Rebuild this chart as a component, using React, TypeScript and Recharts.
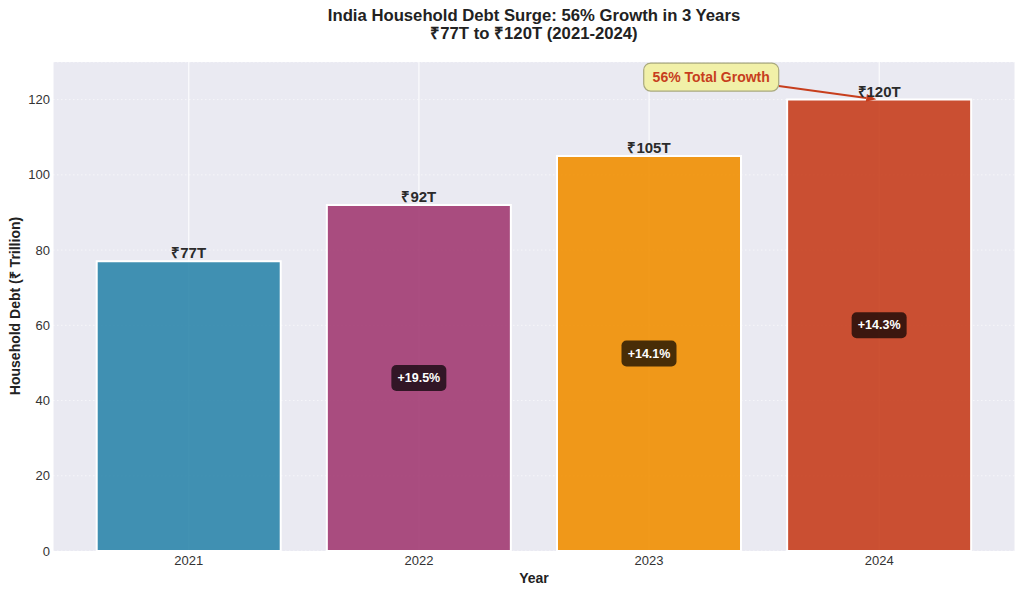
import { Bar, BarChart, CartesianGrid, Cell, LabelList, ReferenceDot, ReferenceLine, XAxis, YAxis } from 'recharts'

const years = ['2021', '2022', '2023', '2024']
const debt = [77, 92, 105, 120]
const growth = ['', '+19.5%', '+14.1%', '+14.3%']
const yTicks = [0, 20, 40, 60, 80, 100, 120]

const colors = ['#2E86AB', '#A23B72', '#F18F01', '#C73E1D']

// where the "56% Total Growth" note sits, in data units
const noteX = 2.27
const noteY = 126
const noteW = 135
const noteH = 28

const data = years.map((year, i) => ({
  idx: i,
  year,
  debt: debt[i],
  growth: growth[i],
}))

const font = '"Liberation Sans", Arial, sans-serif'

function TopLabel(props: any) {
  const { x, y, width, index } = props
  return (
    <text x={x + width / 2} y={y - 3} textAnchor="middle" fontFamily={font} fontSize={15} fontWeight="bold" fill="#2b2b2b">
      {'₹' + debt[index] + 'T'}
    </text>
  )
}

function GrowthLabel(props: any) {
  const { x, y, width, height, index } = props
  const label = growth[index]
  if (!label) return null
  const cx = x + width / 2
  const cy = y + height / 2
  return (
    <g>
      <rect x={cx - 27.5} y={cy - 13} width={55} height={26} rx={5} fill="#000" fillOpacity={0.7} />
      <text x={cx} y={cy} textAnchor="middle" dominantBaseline="central" fontFamily={font} fontSize={12.5} fontWeight="bold" fill="#fff">
        {label}
      </text>
    </g>
  )
}

function Arrow(props: any) {
  const { x1, y1, x2, y2 } = props
  const dx = x2 - x1
  const dy = y2 - y1
  const len = Math.sqrt(dx * dx + dy * dy)
  const ux = dx / len
  const uy = dy / len
  // start at box edge, stop a little short of the target
  const t = Math.min(noteW / 2 / Math.abs(dx), noteH / 2 / Math.abs(dy))
  const sx = x1 + dx * t
  const sy = y1 + dy * t
  const ex = x2 - ux * 3
  const ey = y2 - uy * 3
  const hl = 10
  const hw = 4
  const bx = ex - ux * hl
  const by = ey - uy * hl
  return (
    <g>
      <line x1={sx} y1={sy} x2={bx} y2={by} stroke="#C73E1D" strokeWidth={2} />
      <polygon
        points={`${ex},${ey} ${bx - uy * hw},${by + ux * hw} ${bx + uy * hw},${by - ux * hw}`}
        fill="#C73E1D"
      />
    </g>
  )
}

function NoteBox(props: any) {
  const { cx, cy } = props
  return (
    <g>
      <rect x={cx - noteW / 2} y={cy - noteH / 2} width={noteW} height={noteH} rx={7} fill="#F1F0A8" stroke="#A9A97E" strokeWidth={1.2} />
      <text x={cx} y={cy} textAnchor="middle" dominantBaseline="central" fontFamily={font} fontSize={14} fontWeight="bold" fill="#C73E1D">
        56% Total Growth
      </text>
    </g>
  )
}

export default function App() {
  return (
    <div style={{ position: 'absolute', left: 0, top: 0, width: 1024, height: 595, background: '#fff', fontFamily: font }}>
      <BarChart width={1024} height={595} data={data} margin={{ top: 62, right: 9, bottom: 0, left: 0 }}>
        <CartesianGrid horizontal={false} stroke="#ffffff" strokeWidth={1} fill="#EAEAF2" />
        <CartesianGrid vertical={false} stroke="#ffffff" strokeOpacity={0.6} strokeWidth={1} strokeDasharray="1.5 2.5" />
        <XAxis
          dataKey="idx"
          type="number"
          domain={[-0.59, 3.59]}
          ticks={[0, 1, 2, 3]}
          tickFormatter={(v: number) => years[v]}
          axisLine={false}
          tickLine={false}
          tickSize={3}
          tickMargin={2}
          height={44}
          tick={{ fill: '#333', fontSize: 13, fontFamily: font }}
        />
        <YAxis
          type="number"
          domain={[0, 130]}
          ticks={yTicks}
          axisLine={false}
          tickLine={false}
          tickSize={3}
          tickMargin={0}
          width={53}
          tick={{ fill: '#333', fontSize: 13, fontFamily: font }}
        />
        <Bar dataKey="debt" barSize={184} stroke="#ffffff" strokeWidth={2} isAnimationActive={false}>
          {data.map((d, i) => (
            <Cell key={d.year} fill={colors[i]} fillOpacity={0.9} />
          ))}
          <LabelList dataKey="debt" content={<TopLabel />} />
          <LabelList dataKey="growth" content={<GrowthLabel />} />
        </Bar>
        <ReferenceLine
          segment={[
            { x: noteX, y: noteY },
            { x: 3, y: debt[3] },
          ]}
          shape={<Arrow />}
        />
        <ReferenceDot x={noteX} y={noteY} r={0} shape={<NoteBox />} />
      </BarChart>
      <svg width={1024} height={595} style={{ position: 'absolute', left: 0, top: 0, pointerEvents: 'none' }}>
        <text x={534} y={21} textAnchor="middle" fontFamily={font} fontSize={16.7} fontWeight="bold" fill="#222">
          India Household Debt Surge: 56% Growth in 3 Years
        </text>
        <text x={534} y={39} textAnchor="middle" fontFamily={font} fontSize={16.7} fontWeight="bold" fill="#222">
          ₹77T to ₹120T (2021-2024)
        </text>
        <text
          x={15}
          y={306}
          textAnchor="middle"
          dominantBaseline="central"
          transform="rotate(-90 15 306)"
          fontFamily={font}
          fontSize={14}
          fontWeight="bold"
          fill="#222"
        >
          Household Debt (₹ Trillion)
        </text>
        <text x={534} y={583} textAnchor="middle" fontFamily={font} fontSize={14} fontWeight="bold" fill="#222">
          Year
        </text>
      </svg>
    </div>
  )
}
